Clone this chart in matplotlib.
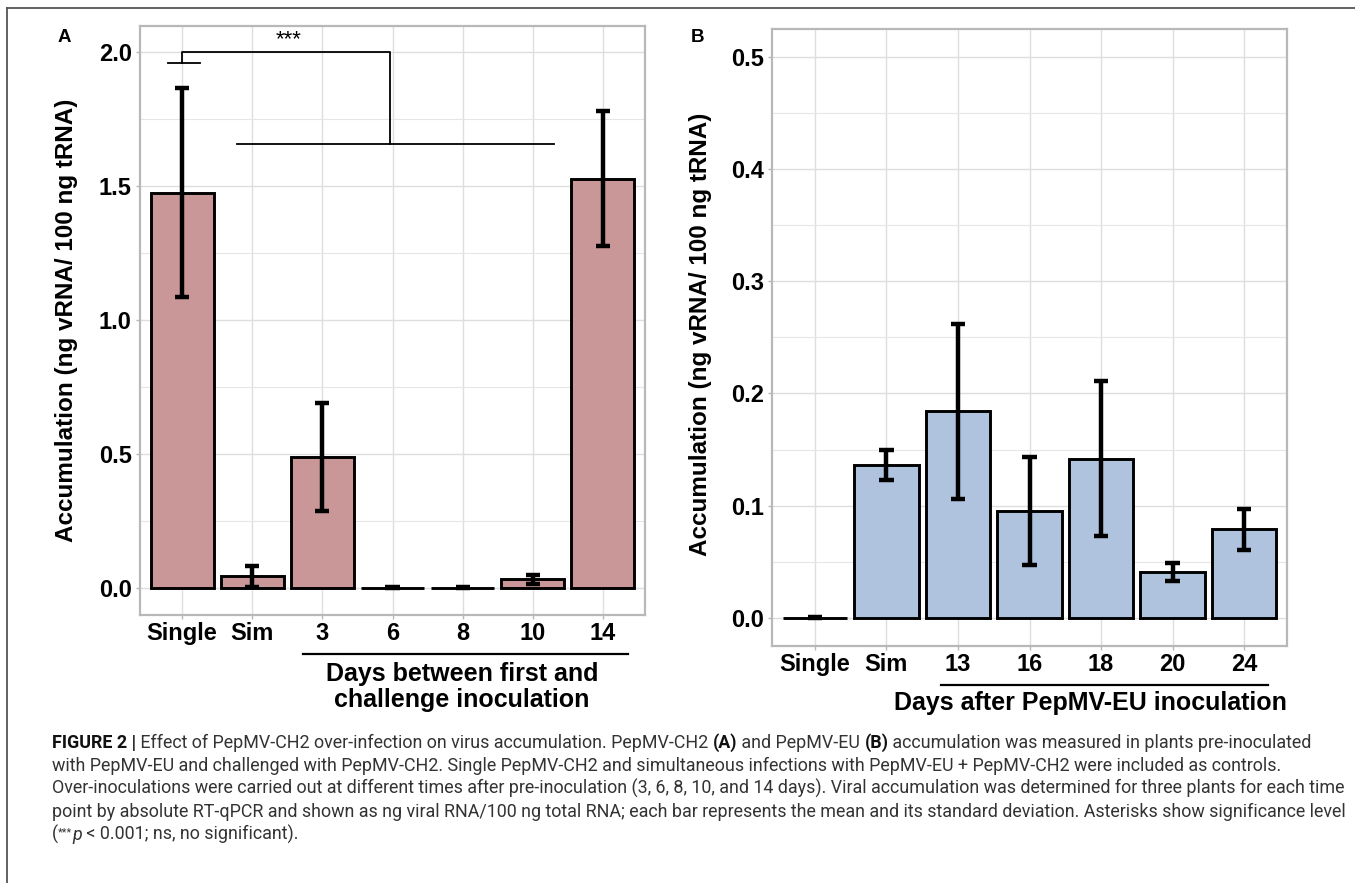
import matplotlib
matplotlib.use("Agg")
import matplotlib.pyplot as plt
from matplotlib.ticker import MultipleLocator, FormatStrFormatter
from matplotlib.transforms import blended_transform_factory
from matplotlib.lines import Line2D

W, H, DPI = 1355, 883, 100

# ---------------- data ----------------
cats_a = ["Single", "Sim", "3", "6", "8", "10", "14"]
mean_a = [1.476, 0.044, 0.489, 0.002, 0.002, 0.033, 1.528]
sd_a = [0.390, 0.039, 0.201, 0.001, 0.001, 0.017, 0.252]

cats_b = ["Single", "Sim", "13", "16", "18", "20", "24"]
mean_b = [0.000, 0.136, 0.184, 0.095, 0.142, 0.041, 0.079]
sd_b = [0.0004, 0.0135, 0.078, 0.048, 0.069, 0.0083, 0.0185]

sig_label = "***"
xtitle_a = "Days between first and\nchallenge inoculation"
xtitle_b = "Days after PepMV-EU inoculation"
ylabel = "Accumulation (ng vRNA/ 100 ng tRNA)"

caption_lines = [
    [("FIGURE 2 |", "b"), (" Effect of PepMV-CH2 over-infection on virus accumulation. PepMV-CH2 ", "n"),
     ("(A)", "b"), (" and PepMV-EU ", "n"), ("(B)", "b"),
     (" accumulation was measured in plants pre-inoculated", "n")],
    [("with PepMV-EU and challenged with PepMV-CH2. Single PepMV-CH2 and simultaneous infections with PepMV-EU + PepMV-CH2 were included as controls.", "n")],
    [("Over-inoculations were carried out at different times after pre-inoculation (3, 6, 8, 10, and 14 days). Viral accumulation was determined for three plants for each time", "n")],
    [("point by absolute RT-qPCR and shown as ng viral RNA/100 ng total RNA; each bar represents the mean and its standard deviation. Asterisks show significance level", "n")],
    [("(", "n"), ("***", "sup"), ("p", "i"), (" < 0.001; ns, no significant).", "n")],
]

FILL_A = "#C99797"
FILL_B = "#B0C3DE"
FONT = ["Liberation Sans", "DejaVu Sans"]
CAPFONT = ["Roboto", "Liberation Sans", "DejaVu Sans"]

plt.rcParams["font.family"] = FONT

fig = plt.figure(figsize=(W / DPI, H / DPI), dpi=DPI)


def px_ax(l, t, r, b):
    return fig.add_axes([l / W, 1 - b / H, (r - l) / W, (b - t) / H])


def style(ax, cats, ylim, major, minor):
    ax.set_xlim(-0.6, 6.6)
    ax.set_ylim(*ylim)
    ax.set_xticks(range(len(cats)))
    ax.set_xticklabels(cats)
    ax.yaxis.set_major_locator(MultipleLocator(major))
    ax.yaxis.set_minor_locator(MultipleLocator(minor))
    ax.yaxis.set_major_formatter(FormatStrFormatter("%.1f"))
    ax.grid(True, which="major", color="#DEDEDE", lw=1.0)
    ax.grid(True, which="minor", axis="y", color="#E6E6E6", lw=0.8)
    ax.set_axisbelow(True)
    for s in ax.spines.values():
        s.set_color("#B8B8B8")
        s.set_linewidth(1.6)
    ax.tick_params(which="major", length=3, width=1, color="#B8B8B8",
                   labelsize=17, labelcolor="black")
    ax.tick_params(axis="x", pad=2)
    ax.tick_params(axis="y", pad=3)
    ax.tick_params(which="minor", length=0)
    for lab in ax.get_xticklabels() + ax.get_yticklabels():
        lab.set_fontweight("bold")


def bars(ax, means, sds, fill):
    x = list(range(len(means)))
    ax.bar(x, means, width=0.9, color=fill, edgecolor="black", linewidth=2.1, zorder=2)
    lo = [m - s for m, s in zip(means, sds)]
    hi = [m + s for m, s in zip(means, sds)]
    ax.vlines(x, lo, hi, color="black", lw=3.2, zorder=3)
    ax.hlines(lo, [i - 0.1 for i in x], [i + 0.1 for i in x], color="black", lw=3.2, zorder=3)
    ax.hlines(hi, [i - 0.1 for i in x], [i + 0.1 for i in x], color="black", lw=3.2, zorder=3)


# ---------------- panel A ----------------
axA = px_ax(140, 26, 645, 615)
style(axA, cats_a, (-0.1, 2.098), 0.5, 0.25)
bars(axA, mean_a, sd_a, FILL_A)

# significance bracket
bl = dict(color="black", lw=1.3, zorder=4, clip_on=False)
axA.plot([0, 0, 2.96, 2.96], [1.959, 2.0, 2.0, 1.658], **bl)
axA.plot([-0.2, 0.26], [1.959, 1.959], **bl)
axA.plot([0.78, 5.3], [1.658, 1.658], **bl)
axA.text(1.52, 2.008, sig_label, ha="center", va="bottom", fontsize=16)

trA = blended_transform_factory(axA.transData, fig.transFigure)
axA.add_line(Line2D([1.73, 6.36], [1 - 654 / H] * 2, transform=trA, color="black",
                    lw=1.6, clip_on=False))
axA.text(3.99, 1 - 687 / H, xtitle_a, transform=trA, ha="center", va="center",
         fontsize=18, fontweight="bold", linespacing=1.08)

# ---------------- panel B ----------------
axB = px_ax(772, 29, 1287, 646)
style(axB, cats_b, (-0.025, 0.5247), 0.1, 0.05)
bars(axB, mean_b, sd_b, FILL_B)

trB = blended_transform_factory(axB.transData, fig.transFigure)
axB.add_line(Line2D([1.76, 6.33], [1 - 685 / H] * 2, transform=trB, color="black",
                    lw=1.6, clip_on=False))
axB.text(3.85, 1 - 703 / H, xtitle_b, transform=trB, ha="center", va="center",
         fontsize=18, fontweight="bold")

# y labels & panel letters
fig.text(67 / W, 1 - 320 / H, ylabel, rotation=90, ha="center", va="center",
         fontsize=17.5, fontweight="bold")
fig.text(701 / W, 1 - 334 / H, ylabel, rotation=90, ha="center", va="center",
         fontsize=17.5, fontweight="bold")
fig.text(64 / W, 1 - 37 / H, "A", ha="center", va="center", fontsize=13.5, fontweight="bold")
fig.text(697 / W, 1 - 37 / H, "B", ha="center", va="center", fontsize=13.5, fontweight="bold")

# outer frame
fig.add_artist(Line2D([7 / W, 1], [1 - 8 / H] * 2, transform=fig.transFigure,
                      color="#555555", lw=1.3))
fig.add_artist(Line2D([7 / W] * 2, [0, 1 - 8 / H], transform=fig.transFigure,
                      color="#555555", lw=1.3))

# ---------------- caption ----------------
renderer = fig.canvas.get_renderer()


def run_props(kind, size):
    p = dict(fontsize=size, color="#333333", family=CAPFONT, fontweight="normal")
    if kind == "b":
        p.update(fontweight="bold", color="#111111")
    elif kind == "i":
        p.update(fontstyle="italic")
    elif kind == "sup":
        p.update(fontsize=size * 0.62)
    return p


def measure(txt, props):
    t1 = fig.text(0, 0, "|" + txt + "|", **props)
    t2 = fig.text(0, 0, "||", **props)
    w = t1.get_window_extent(renderer).width - t2.get_window_extent(renderer).width
    t1.remove()
    t2.remove()
    return w


X0, X1 = 52, 1308
base = 11.0
w1 = sum(measure(t, run_props(k, base)) for t, k in caption_lines[0])
size = base * (X1 - X0) / w1

for i, line in enumerate(caption_lines):
    yb = 748 + 23 * i
    x = X0
    for txt, kind in line:
        props = run_props(kind, size)
        dy = -5 if kind == "sup" else 0
        fig.text(x / W, 1 - (yb + dy) / H, txt, va="baseline", ha="left", **props)
        x += measure(txt, props)

fig.savefig("out.png", dpi=DPI)
